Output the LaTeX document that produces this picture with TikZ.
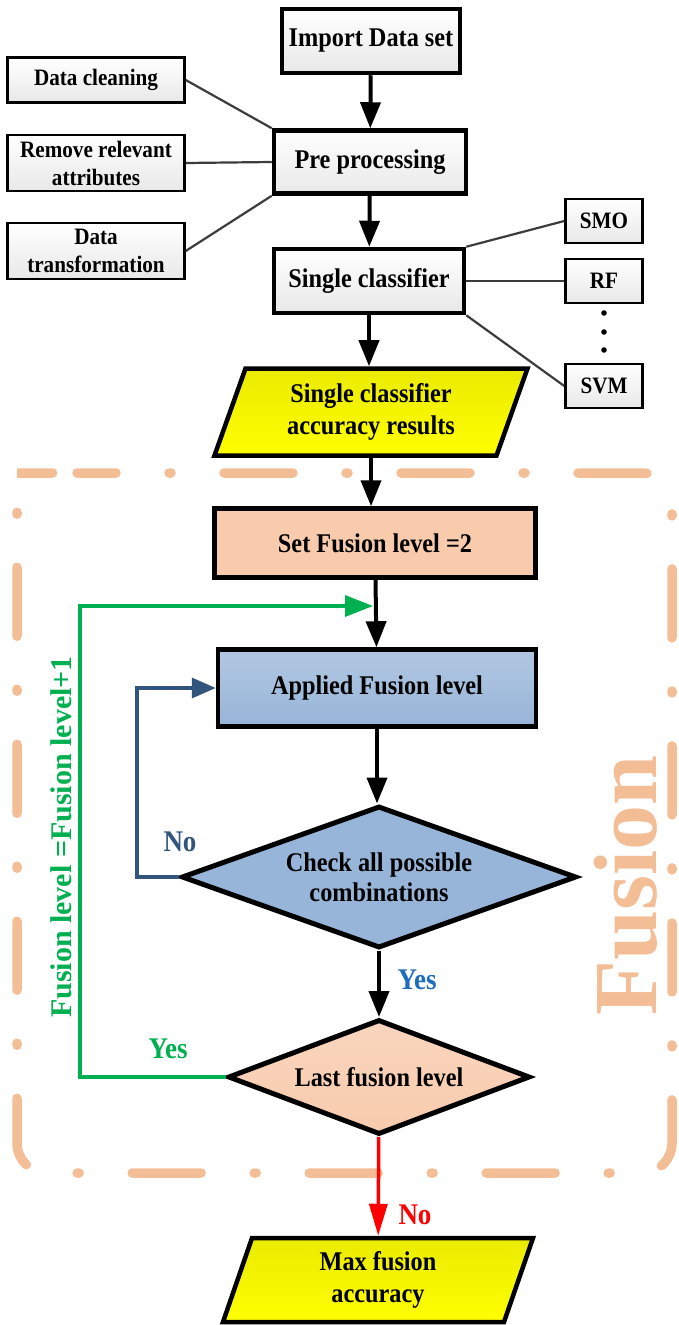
\documentclass[tikz,border=0pt]{standalone}
\usepackage{fontspec}
\setmainfont{Liberation Serif}[FakeStretch=0.9]
\newfontfamily\plainserif{Liberation Serif}
\usetikzlibrary{shapes.geometric,arrows.meta}
\definecolor{peach}{RGB}{248,203,173}
\definecolor{framepeach}{RGB}{243,189,150}
\definecolor{steel}{RGB}{151,181,216}
\definecolor{loopblue}{RGB}{50,85,125}
\definecolor{yesblue}{RGB}{30,110,190}
\definecolor{loopgreen}{RGB}{0,176,80}
\definecolor{linkgray}{RGB}{60,60,60}

\begin{document}
\begin{tikzpicture}[x=1pt, y=-1pt,
  mainbox/.style={rectangle, draw, line width=4.5pt, top color=white, bottom color=gray!18, minimum height=64pt, font=\fontsize{27}{31}\selectfont\bfseries, align=center},
  sidebox/.style={rectangle, draw, line width=2.5pt, top color=white, bottom color=gray!18, minimum width=177pt, font=\fontsize{23.5}{28}\selectfont\bfseries, align=center, inner sep=2pt},
  algbox/.style={sidebox, minimum width=77pt, minimum height=44pt},
  iobox/.style={trapezium, trapezium stretches body, draw, line width=4.5pt, top color=yellow!92!black, bottom color=yellow, font=\fontsize{27}{32}\selectfont\bfseries, align=center, inner sep=2pt},
  fusebox/.style={rectangle, draw, line width=4.5pt, font=\fontsize{27}{31}\selectfont\bfseries, align=center},
  decision/.style={diamond, draw, line width=5pt, font=\fontsize{27}{30}\selectfont\bfseries, align=center, inner sep=1pt},
  flow/.style={line width=4pt, -{Triangle[length=26pt,width=20pt]}},
  link/.style={draw=linkgray, line width=2.2pt},
  answer/.style={font=\fontsize{30}{30}\selectfont\bfseries, inner sep=0pt},
  fusionframe/.style={draw=framepeach, line width=9.5pt, line cap=round, rounded corners=30pt, dash pattern=on 69pt off 53pt on 2pt off 53pt, dash phase=30pt}]
  \useasboundingbox (0,0) rectangle (678,1325);

  \draw[fusionframe] (47,473) -- (672,473) -- (672,1173) -- (17,1173) -- (17,473) -- cycle;
  \node[rotate=90, text=framepeach, inner sep=0pt, font=\plainserif\fontsize{90}{90}\selectfont\bfseries] (fusiontag) at (626,885) {Fusion};

  \node[mainbox, minimum width=178pt] (import) at (371,41) {Import Data set};
  \node[mainbox, minimum width=192pt, minimum height=63pt] (prep) at (370,162) {Pre processing};
  \node[mainbox, minimum width=190pt] (single) at (369,281) {Single classifier};
  \node[iobox, trapezium left angle=63, trapezium right angle=117, minimum width=313pt, minimum height=87pt] (acc) at (371,412) {Single classifier\\accuracy results};

  \node[sidebox, minimum height=45pt] (clean) at (96,80) {Data cleaning};
  \node[sidebox, minimum height=56pt] (remove) at (96,163) {Remove relevant\\attributes};
  \node[sidebox, minimum height=56pt] (transf) at (96,251) {Data\\transformation};

  \node[algbox] (smo) at (604,221) {SMO};
  \node[algbox] (rf) at (604,281) {RF};
  \node[algbox] (svm) at (604,386) {SVM};
  \foreach \y in {313,332,350} \fill (604,\y) circle (2.8pt);

  \node[fusebox, fill=peach, minimum width=321pt, minimum height=69pt] (setlvl) at (375,543) {Set Fusion level =2};
  \node[fusebox, top color=steel!75!white, bottom color=steel, minimum width=318pt, minimum height=77pt] (applied) at (377,688) {Applied Fusion level};
  \node[decision, fill=steel, shape aspect=2.8, minimum width=395pt, minimum height=142pt] (check) at (379,877) {Check all possible\\combinations};
  \node[decision, top color=peach!80!white, bottom color=peach, shape aspect=2.6, minimum width=302pt, minimum height=115pt] (last) at (379,1077) {Last fusion level};
  \node[iobox, trapezium left angle=64.5, trapezium right angle=115.5, minimum width=310pt, minimum height=84pt] (maxacc) at (378,1280) {Max fusion\\accuracy};

  \coordinate (join) at (373,606);
  \coordinate (gcorner) at (80,606);

  \draw[flow] (import) -- (prep);
  \draw[flow] (prep) -- (single);
  \draw[flow] (single.south) -- (single.south |- acc.north);
  \draw[flow] (acc.south) -- (acc.south |- setlvl.north);
  \draw[flow] (setlvl) -- (applied);
  \draw[flow] (applied.south) -- (applied.south |- check.north);
  \draw[flow] (check) -- (last);
  \draw[flow, red, line width=3.5pt, -{Triangle[length=32pt,width=18pt]}] (last) -- (maxacc);

  \draw[link] (clean.east) -- (prep.north west);
  \draw[link] (remove.east) -- (prep.west);
  \draw[link] (transf.east) -- (prep.south west);
  \draw[link] (single.north east) -- (smo.west);
  \draw[link] (single.east) -- (rf.west);
  \draw[link] (single.south east) -- (svm.west);

  \draw[loopblue, line width=3.5pt, -{Triangle[length=24pt,width=20pt]}] (check.west) -- ++(-42,0) |- (applied.west);
  \draw[loopgreen, line width=3.5pt, -{Triangle[length=28pt,width=21pt]}] (last.west) -| (gcorner) -- (join);

  \node[rotate=90, text=loopgreen, inner sep=0pt, font=\plainserif\fontsize{30}{30}\selectfont\bfseries] (levelup) at (61,837) {Fusion level =Fusion level+1};
  \node[answer, text=loopblue] (nolabel) at (180,842) {No};
  \node[answer, text=yesblue] (yeslabel) at (417,980) {Yes};
  \node[answer, text=loopgreen] (yesloop) at (168,1049) {Yes};
  \node[answer, text=red] (noend) at (415,1215) {No};
\end{tikzpicture}
\end{document}
